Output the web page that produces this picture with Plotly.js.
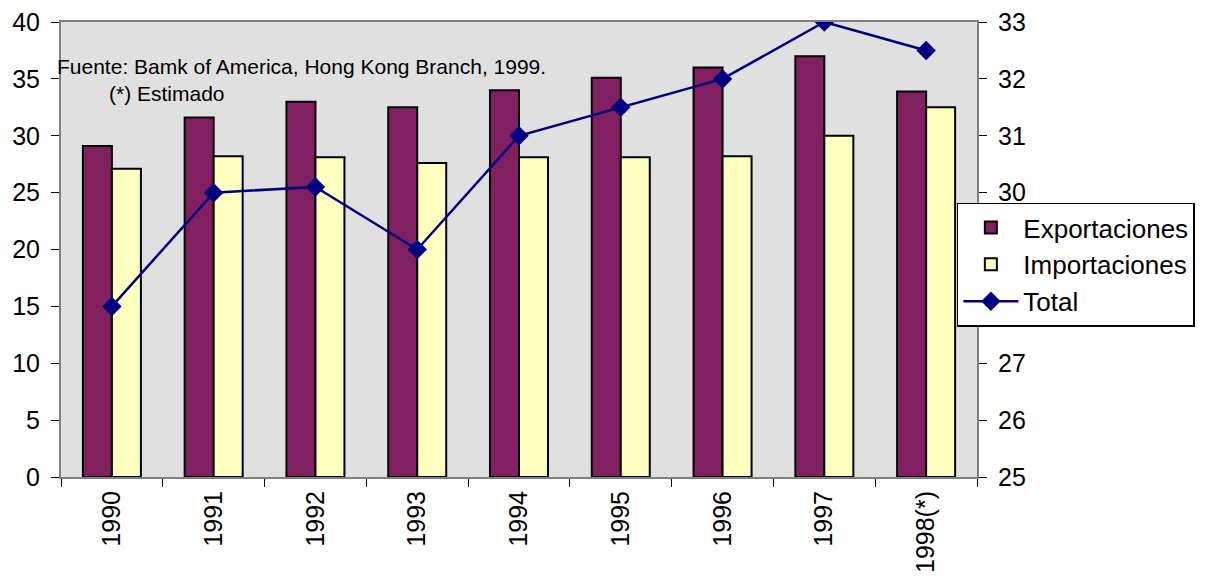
<!DOCTYPE html>
<html>
<head>
<meta charset="utf-8">
<script src="https://cdn.plot.ly/plotly-3.0.1.min.js"></script>
<style>html,body{margin:0;padding:0;background:#fff;}#chart{width:1207px;height:581px;}</style>
</head>
<body>
<div id="chart"></div>
<script>
const years = ["1990","1991","1992","1993","1994","1995","1996","1997","1998(*)"];
const exportaciones = [29.1, 31.6, 33.0, 32.5, 34.0, 35.1, 36.0, 37.0, 33.9];
const importaciones = [27.1, 28.2, 28.1, 27.6, 28.1, 28.1, 28.2, 30.0, 32.5];
const total = [28.0, 30.0, 30.1, 29.0, 31.0, 31.5, 32.0, 33.0, 32.5];
const seriesNames = ["Exportaciones", "Importaciones", "Total"];
const noteLines = ["Fuente: Bamk of America, Hong Kong Branch, 1999.", "(*) Estimado"];

const font = "Liberation Sans, Arial, sans-serif";
const traces = [
  {type: "bar", name: seriesNames[0], x: years, y: exportaciones, legendgroup: "a",
   marker: {color: "#802060", line: {color: "#000", width: 2}}},
  {type: "bar", name: seriesNames[1], x: years, y: importaciones, legendgroup: "b",
   marker: {color: "#ffffc0", line: {color: "#000", width: 2}}},
  {type: "scatter", mode: "lines+markers", name: seriesNames[2], x: years, y: total, yaxis: "y2", legendgroup: "c",
   line: {color: "#000080", width: 2.5}, marker: {symbol: "diamond", size: 15, color: "#000080"}}
];
const layout = {
  width: 1207, height: 581,
  margin: {l: 61, r: 227, t: 22, b: 104},
  paper_bgcolor: "#ffffff", plot_bgcolor: "#e0e0e0",
  font: {family: font, size: 25, color: "#000"},
  barmode: "group", bargap: 0.43, bargroupgap: 0,
  showlegend: true,
  legend: {x: 0.978, xanchor: "left", y: 0.603, yanchor: "top", bgcolor: "#fff",
           bordercolor: "#000", borderwidth: 1.5, font: {size: 26, family: font},
           tracegroupgap: 9, traceorder: "normal", itemwidth: 55},
  xaxis: {type: "category", range: [-0.5, 8.5], autorange: false, automargin: false,
          tickson: "boundaries", ticks: "outside", ticklen: 8, tickcolor: "#000",
          tickangle: -90, showline: true, linecolor: "#808080", linewidth: 2, mirror: true,
          showgrid: false, tickfont: {size: 25}, ticklabelstandoff: 2},
  yaxis: {range: [0, 40], dtick: 5, ticks: "outside", ticklen: 8, tickcolor: "#000", automargin: false,
          showline: true, linecolor: "#808080", linewidth: 2, showgrid: false, zeroline: false,
          tickfont: {size: 25}, ticklabelstandoff: 6},
  yaxis2: {range: [25, 33], dtick: 1, overlaying: "y", side: "right", ticks: "outside", ticklen: 8,
           tickcolor: "#000", showline: true, linecolor: "#808080", linewidth: 2, showgrid: false,
           zeroline: false, tickfont: {size: 25}, automargin: false, ticklabelstandoff: 6},
  annotations: [
    {xref: "paper", yref: "paper", x: -0.0065, y: 0.903, xanchor: "left", yanchor: "middle",
     text: noteLines[0], showarrow: false, font: {size: 21, family: font}},
    {xref: "paper", yref: "paper", x: 0.050, y: 0.842, xanchor: "left", yanchor: "middle",
     text: noteLines[1], showarrow: false, font: {size: 21, family: font}}
  ]
};
Plotly.newPlot("chart", traces, layout, {displayModeBar: false, staticPlot: true});
</script>
</body>
</html>
